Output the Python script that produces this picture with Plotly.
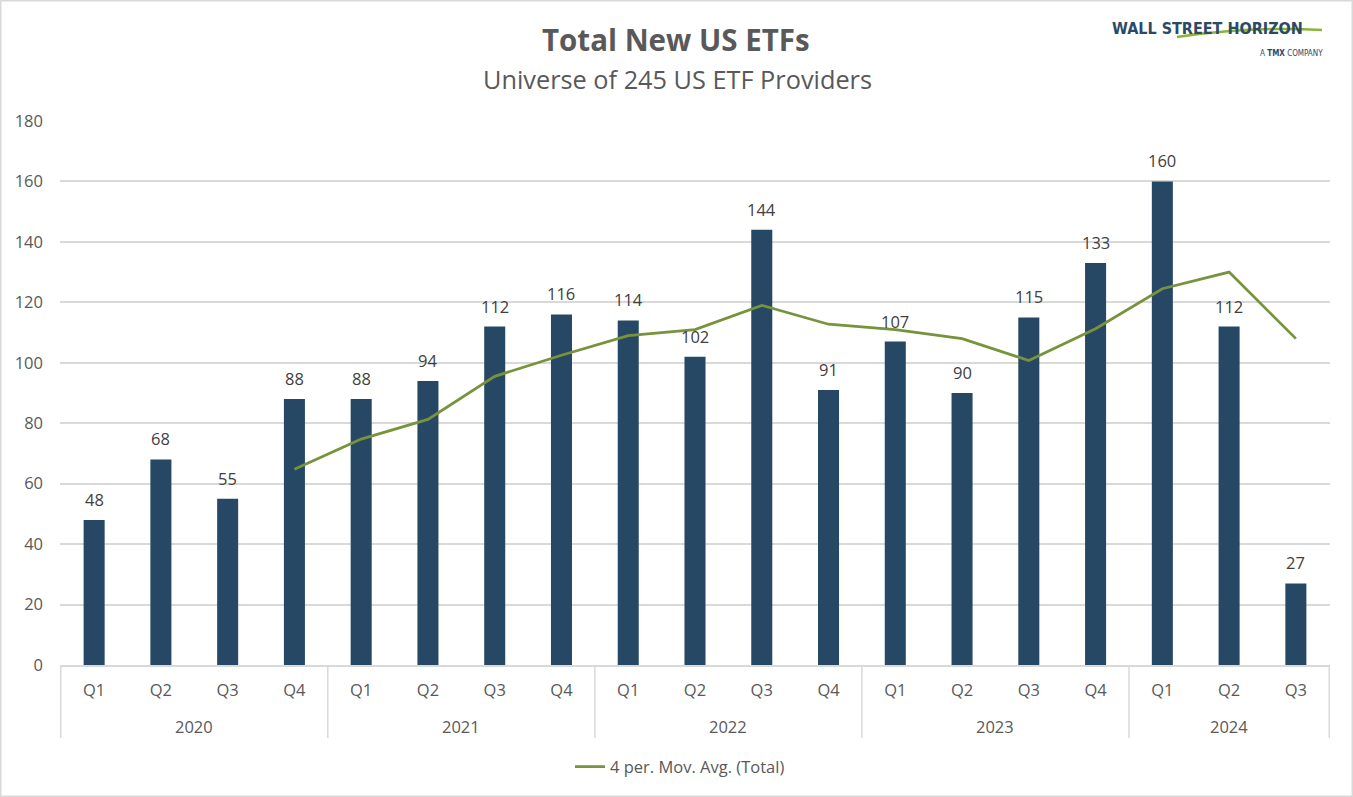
import plotly.graph_objects as go

years = ["2020"] * 4 + ["2021"] * 4 + ["2022"] * 4 + ["2023"] * 4 + ["2024"] * 3
quarters = ["Q1", "Q2", "Q3", "Q4"] * 4 + ["Q1", "Q2", "Q3"]
totals = [48, 68, 55, 88, 88, 94, 112, 116, 114, 102, 144, 91, 107, 90, 115, 133, 160, 112, 27]
mov_avg = [None, None, None, 64.75, 74.75, 81.25, 95.5, 102.5, 109, 111, 119, 112.75,
           111, 108, 100.75, 111.25, 124.5, 130, 108]
year_labels = ["2020", "2021", "2022", "2023", "2024"]

FONT = "Open Sans"
GREY = "#595959"
LINEGREY = "#D9D9D9"

W, H = 1353, 797
L, R, T, B = 60, 23, 121, 132
PW, PH = W - L - R, H - T - B


def px(xp):
    return (xp - L) / PW


def py(yp):
    return 1 - (yp - T) / PH


cats = [f"{y} {q}" for y, q in zip(years, quarters)]

fig = go.Figure()
fig.add_trace(go.Bar(
    x=cats, y=totals,
    marker=dict(color="#264864", line=dict(width=0)),
    width=0.315, showlegend=False, name="Total",
))
fig.add_trace(go.Scatter(
    x=cats, y=mov_avg, mode="lines",
    line=dict(color="#77933C", width=2.75),
    name="4 per. Mov. Avg. (Total)", connectgaps=False,
))

shapes = []
annotations = []

# data labels above bars
for c, v in zip(cats, totals):
    annotations.append(dict(text=str(v), x=c, y=v, xref="x", yref="y", xanchor="center",
                            yanchor="bottom", yshift=7, showarrow=False,
                            font=dict(family=FONT, size=16.5, color="#404040")))

# year group dividers and labels
idx = 0
bounds = [-0.5]
for yl in year_labels:
    n = years.count(yl)
    annotations.append(dict(text=yl, x=idx + (n - 1) / 2, xref="x", y=py(726), yref="paper",
                            xanchor="center", yanchor="middle", showarrow=False,
                            font=dict(family=FONT, size=16.5, color=GREY)))
    idx += n
    bounds.append(idx - 0.5)
for b in bounds:
    shapes.append(dict(type="line", xref="x", yref="paper", x0=b, x1=b, y0=0, y1=py(738),
                       line=dict(color=LINEGREY, width=1.5)))

# chart border
shapes.append(dict(type="rect", xref="paper", yref="paper", x0=px(0.75), x1=px(W - 0.75),
                   y0=py(H - 0.75), y1=py(0.75), line=dict(color=LINEGREY, width=1.5)))
# logo swoosh
shapes.append(dict(type="path", xref="paper", yref="paper",
                   path=f"M {px(1177)} {py(37)} Q {px(1250)} {py(26)} {px(1322)} {py(30)}",
                   line=dict(color="#8DB33A", width=2.5)))

annotations += [
    dict(text="<b>Total New US ETFs</b>", xref="paper", yref="paper", x=px(676), y=py(40),
         xanchor="center", yanchor="middle", showarrow=False,
         font=dict(family=FONT, size=29.5, color=GREY)),
    dict(text="Universe of 245 US ETF Providers", xref="paper", yref="paper", x=px(677), y=py(79),
         xanchor="center", yanchor="middle", showarrow=False,
         font=dict(family=FONT, size=25.3, color=GREY)),
    dict(text="<b>WALL STREET HORIZON</b>", xref="paper", yref="paper",
         x=px(1207), y=py(29), xanchor="center", yanchor="middle",
         showarrow=False, font=dict(family="DejaVu Sans Condensed", size=16, color="#2B4A66")),
    dict(text="A <b>TMX</b> COMPANY", xref="paper", yref="paper",
         x=px(1291), y=py(53), xanchor="center", yanchor="middle",
         showarrow=False, font=dict(family="DejaVu Sans Condensed", size=8, color="#2B4A66")),
]

fig.update_layout(
    width=W, height=H,
    margin=dict(l=L, r=R, t=T, b=B, autoexpand=False),
    paper_bgcolor="white", plot_bgcolor="white",
    font=dict(family=FONT, color=GREY, size=16.5),
    bargap=0.685,
    yaxis=dict(range=[0, 180], dtick=20, showgrid=True, gridcolor=LINEGREY, gridwidth=1.5,
               zeroline=False, showline=False, ticks="", ticklabelstandoff=16,
               tickfont=dict(family=FONT, size=16.5, color=GREY)),
    xaxis=dict(type="category", showline=True, linecolor=LINEGREY, linewidth=1.5,
               tickvals=cats, ticktext=quarters, tickangle=0, ticks="",
               ticklabelstandoff=9, showgrid=False,
               tickfont=dict(family=FONT, size=16.5, color=GREY)),
    legend=dict(orientation="h", x=px(570), xanchor="left", y=py(767), yanchor="middle",
                font=dict(family=FONT, size=16.5, color=GREY)),
    shapes=shapes,
    annotations=annotations,
)

fig.write_html("out.html", config={"displayModeBar": False},
               post_script="document.body.style.margin='0';")
